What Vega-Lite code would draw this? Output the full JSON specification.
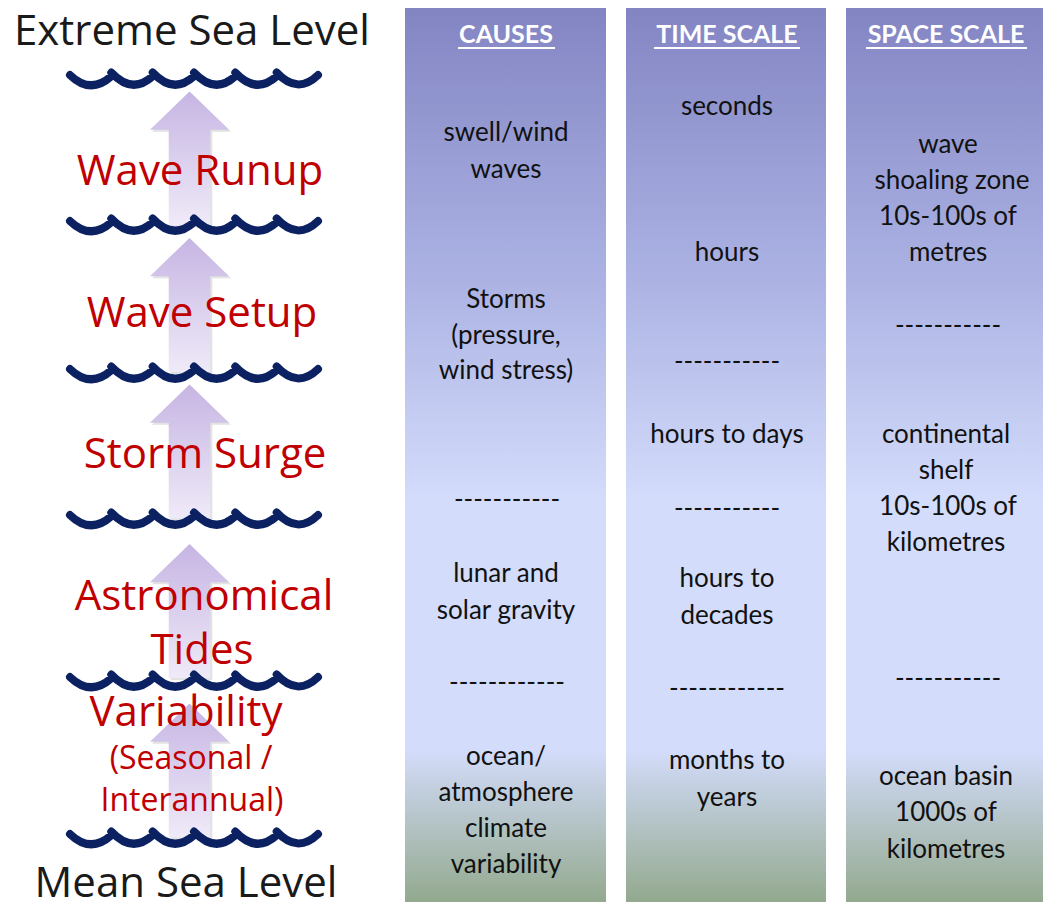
{
  "$schema": "https://vega.github.io/schema/vega-lite/v6.json",
  "width": 1043,
  "height": 908,
  "autosize": {"type": "fit", "contains": "padding"},
  "padding": 0,
  "background": "#ffffff",
  "config": {"view": {"stroke": null}},
  "datasets": {
    "panels": [
      {"panel": "CAUSES", "left": 405, "right": 606, "top": 8, "bottom": 902},
      {"panel": "TIME SCALE", "left": 626, "right": 826, "top": 8, "bottom": 902},
      {"panel": "SPACE SCALE", "left": 846, "right": 1043, "top": 8, "bottom": 902}
    ],
    "headers": [
      {"text": "CAUSES", "cx": 506, "y": 35, "ulFrom": 458, "ulTo": 555, "ulY": 48},
      {"text": "TIME SCALE", "cx": 727, "y": 35, "ulFrom": 654, "ulTo": 800, "ulY": 48},
      {"text": "SPACE SCALE", "cx": 946, "y": 35, "ulFrom": 866, "ulTo": 1027, "ulY": 48}
    ],
    "cells": [
      {"text": "swell/wind", "cx": 506, "y": 133},
      {"text": "waves", "cx": 506, "y": 170},
      {"text": "Storms", "cx": 506, "y": 300},
      {"text": "(pressure,", "cx": 506, "y": 336},
      {"text": "wind stress)", "cx": 506, "y": 371},
      {"text": "-----------", "cx": 507, "y": 500},
      {"text": "lunar and", "cx": 506, "y": 574},
      {"text": "solar gravity", "cx": 506, "y": 611},
      {"text": "------------", "cx": 507, "y": 683},
      {"text": "ocean/", "cx": 506, "y": 757},
      {"text": "atmosphere", "cx": 506, "y": 793},
      {"text": "climate", "cx": 506, "y": 829},
      {"text": "variability", "cx": 506, "y": 865},
      {"text": "seconds", "cx": 727, "y": 107},
      {"text": "hours", "cx": 727, "y": 253},
      {"text": "-----------", "cx": 727, "y": 362},
      {"text": "hours to days", "cx": 727, "y": 435},
      {"text": "-----------", "cx": 727, "y": 509},
      {"text": "hours to", "cx": 727, "y": 579},
      {"text": "decades", "cx": 727, "y": 616},
      {"text": "------------", "cx": 727, "y": 689},
      {"text": "months to", "cx": 727, "y": 761},
      {"text": "years", "cx": 727, "y": 798},
      {"text": "wave", "cx": 948, "y": 145},
      {"text": "shoaling zone", "cx": 952, "y": 181},
      {"text": "10s-100s of", "cx": 948, "y": 217},
      {"text": "metres", "cx": 948, "y": 253},
      {"text": "-----------", "cx": 948, "y": 326},
      {"text": "continental", "cx": 946, "y": 435},
      {"text": "shelf", "cx": 946, "y": 471},
      {"text": "10s-100s of", "cx": 948, "y": 507},
      {"text": "kilometres", "cx": 946, "y": 543},
      {"text": "-----------", "cx": 948, "y": 679},
      {"text": "ocean basin", "cx": 946, "y": 777},
      {"text": "1000s of", "cx": 946, "y": 813},
      {"text": "kilometres", "cx": 946, "y": 850}
    ],
    "arrows": [
      {"component": "Wave Runup", "mid": 158.5},
      {"component": "Wave Setup", "mid": 305},
      {"component": "Storm Surge", "mid": 451.5},
      {"component": "Astronomical Tides", "mid": 611},
      {"component": "Variability", "mid": 770.5}
    ],
    "waves": [
      {"level": 80}, {"level": 226}, {"level": 374}, {"level": 520}, {"level": 682}, {"level": 839}
    ],
    "labels": [
      {"text": "Extreme Sea Level", "cx": 192, "base": 45, "kind": "level"},
      {"text": "Wave Runup", "cx": 200, "base": 185, "kind": "component"},
      {"text": "Wave Setup", "cx": 202, "base": 327, "kind": "component"},
      {"text": "Storm Surge", "cx": 205, "base": 468, "kind": "component"},
      {"text": "Astronomical", "cx": 204, "base": 610, "kind": "component"},
      {"text": "Tides", "cx": 202, "base": 664, "kind": "component"},
      {"text": "Variability", "cx": 186, "base": 726, "kind": "component"},
      {"text": "(Seasonal /", "cx": 191, "base": 769, "kind": "sub"},
      {"text": "Interannual)", "cx": 192, "base": 811, "kind": "sub"},
      {"text": "Mean Sea Level", "cx": 186, "base": 897, "kind": "level"}
    ]
  },
  "layer": [
    {
      "data": {"name": "panels"},
      "mark": {
        "type": "rect",
        "fill": {
          "gradient": "linear", "x1": 0, "y1": 0, "x2": 0, "y2": 1,
          "stops": [
            {"offset": 0, "color": "#8385c3"},
            {"offset": 0.3, "color": "#abb2e3"},
            {"offset": 0.55, "color": "#d3dcfb"},
            {"offset": 0.83, "color": "#d3dcfb"},
            {"offset": 1, "color": "#93a98e"}
          ]
        }
      },
      "encoding": {
        "x": {"field": "left", "type": "quantitative", "scale": {"domain": [0, 1043], "nice": false, "zero": false}, "axis": null},
        "x2": {"field": "right"},
        "y": {"field": "top", "type": "quantitative", "scale": {"domain": [0, 908], "nice": false, "zero": false, "reverse": true}, "axis": null},
        "y2": {"field": "bottom"}
      }
    },
    {
      "data": {"name": "arrows"},
      "mark": {
        "type": "point",
        "shape": "M0,-1 L0.59,-0.43 L0.31,-0.43 L0.31,1 L-0.31,1 L-0.31,-0.43 L-0.59,-0.43 Z",
        "size": 17956,
        "filled": true,
        "fill": "#8a8a8a",
        "opacity": 0.25,
        "strokeWidth": 0,
        "xOffset": 2,
        "yOffset": 2
      },
      "encoding": {
        "x": {"datum": 189.5, "type": "quantitative"},
        "y": {"field": "mid", "type": "quantitative"}
      }
    },
    {
      "data": {"name": "arrows"},
      "mark": {
        "type": "point",
        "shape": "M0,-1 L0.59,-0.43 L0.31,-0.43 L0.31,1 L-0.31,1 L-0.31,-0.43 L-0.59,-0.43 Z",
        "size": 17956,
        "filled": true,
        "opacity": 1,
        "strokeWidth": 0,
        "fill": {
          "gradient": "linear", "x1": 0, "y1": 0, "x2": 0, "y2": 1,
          "stops": [
            {"offset": 0, "color": "#c6b5e3"},
            {"offset": 1, "color": "#efeaf8"}
          ]
        }
      },
      "encoding": {
        "x": {"datum": 189.5, "type": "quantitative"},
        "y": {"field": "mid", "type": "quantitative"}
      }
    },
    {
      "data": {"name": "waves"},
      "mark": {
        "type": "point",
        "shape": "M-1,-0.04 Q-0.833,0.12 -0.667,-0.03 M-0.667,-0.06 Q-0.5,0.12 -0.333,-0.03 M-0.333,-0.06 Q-0.167,0.12 0,-0.03 M0,-0.06 Q0.167,0.12 0.333,-0.03 M0.333,-0.06 Q0.5,0.12 0.667,-0.03 M0.667,-0.06 Q0.833,0.12 1,-0.04",
        "size": 61504,
        "filled": false,
        "opacity": 1,
        "stroke": "#0b2162",
        "strokeWidth": 8,
        "strokeCap": "round",
        "strokeJoin": "round"
      },
      "encoding": {
        "x": {"datum": 194, "type": "quantitative"},
        "y": {"field": "level", "type": "quantitative"}
      }
    },
    {
      "data": {"name": "labels"},
      "transform": [{"filter": "datum.kind === 'level'"}],
      "mark": {"type": "text", "font": "Open Sans", "fontSize": 42, "color": "#1a1a1a", "align": "center", "baseline": "alphabetic"},
      "encoding": {
        "x": {"field": "cx", "type": "quantitative"},
        "y": {"field": "base", "type": "quantitative"},
        "text": {"field": "text"}
      }
    },
    {
      "data": {"name": "labels"},
      "transform": [{"filter": "datum.kind === 'component'"}],
      "mark": {"type": "text", "font": "Open Sans", "fontSize": 42, "color": "#c00000", "align": "center", "baseline": "alphabetic"},
      "encoding": {
        "x": {"field": "cx", "type": "quantitative"},
        "y": {"field": "base", "type": "quantitative"},
        "text": {"field": "text"}
      }
    },
    {
      "data": {"name": "labels"},
      "transform": [{"filter": "datum.kind === 'sub'"}],
      "mark": {"type": "text", "font": "Open Sans", "fontSize": 32, "color": "#c00000", "align": "center", "baseline": "alphabetic"},
      "encoding": {
        "x": {"field": "cx", "type": "quantitative"},
        "y": {"field": "base", "type": "quantitative"},
        "text": {"field": "text"}
      }
    },
    {
      "data": {"name": "headers"},
      "mark": {"type": "text", "font": "Lato", "fontSize": 25, "fontWeight": "bold", "color": "#ffffff", "align": "center", "baseline": "middle"},
      "encoding": {
        "x": {"field": "cx", "type": "quantitative"},
        "y": {"field": "y", "type": "quantitative"},
        "text": {"field": "text"}
      }
    },
    {
      "data": {"name": "headers"},
      "mark": {"type": "rule", "color": "#ffffff", "strokeWidth": 2},
      "encoding": {
        "x": {"field": "ulFrom", "type": "quantitative"},
        "x2": {"field": "ulTo"},
        "y": {"field": "ulY", "type": "quantitative"}
      }
    },
    {
      "data": {"name": "cells"},
      "mark": {"type": "text", "font": "Lato", "fontSize": 26, "color": "#111111", "align": "center", "baseline": "middle"},
      "encoding": {
        "x": {"field": "cx", "type": "quantitative"},
        "y": {"field": "y", "type": "quantitative"},
        "text": {"field": "text"}
      }
    }
  ]
}
